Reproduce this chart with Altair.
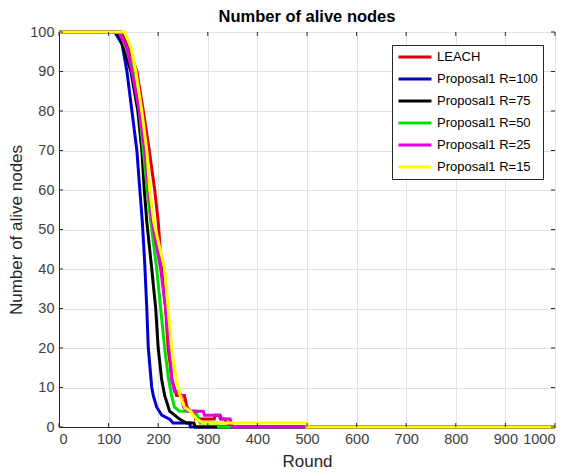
import altair as alt
import pandas as pd

series_names = ["LEACH", "Proposal1 R=100", "Proposal1 R=75", "Proposal1 R=50", "Proposal1 R=25", "Proposal1 R=15"]
series_colors = ["#e00000", "#0000d0", "#000000", "#00e000", "#e000e0", "#ffff00"]

leach_r = [0, 125, 140, 157, 170, 182, 193, 200, 207, 215, 220, 228, 237, 253, 258, 265, 273, 275, 313, 315, 325, 327, 335, 337, 343, 345, 1000]
leach_n = [100, 100, 96, 90, 80, 70, 60, 52, 40, 30, 20, 12, 8, 8, 5, 4, 4, 2, 2, 3, 3, 2, 2, 1, 1, 0, 0]

r100_r = [0, 112, 127, 137, 147, 157, 163, 168, 173, 177, 180, 187, 190, 197, 207, 223, 230, 263, 265, 1000]
r100_n = [100, 100, 97, 90, 80, 70, 60, 52, 41, 30, 20, 10, 8, 5, 3, 2, 1, 1, 0, 0]

r75_r = [0, 117, 130, 145, 159, 167, 172, 177, 187, 195, 200, 207, 213, 223, 233, 243, 257, 272, 275, 1000]
r75_n = [100, 100, 96, 90, 80, 70, 60, 52, 40, 30, 20, 12, 8, 4, 3, 2, 1, 1, 0, 0]

r50_r = [0, 122, 135, 150, 162, 170, 178, 185, 197, 205, 213, 219, 221, 227, 233, 243, 277, 280, 285, 320, 322, 1000]
r50_n = [100, 100, 96, 90, 80, 70, 60, 52, 40, 30, 20, 14, 12, 8, 5, 4, 4, 2, 1, 1, 0, 0]

r25_r = [0, 120, 137, 147, 162, 173, 181, 188, 205, 215, 223, 227, 233, 240, 247, 251, 260, 291, 293, 323, 325, 345, 350, 1000]
r25_n = [100, 100, 96, 90, 80, 70, 60, 52, 40, 30, 20, 12, 9, 9, 8, 5, 4, 4, 3, 3, 2, 2, 0, 0]

r15_r = [0, 133, 145, 155, 167, 177, 183, 191, 213, 220, 227, 231, 237, 244, 253, 265, 277, 291, 500, 500, 1000]
r15_n = [100, 100, 96, 90, 80, 70, 60, 52, 40, 30, 20, 16, 12, 8, 5, 4, 2, 1, 1, 0, 0]

all_r = [leach_r, r100_r, r75_r, r50_r, r25_r, r15_r]
all_n = [leach_n, r100_n, r75_n, r50_n, r25_n, r15_n]

x_ticks = list(range(0, 1001, 100))
y_ticks = list(range(0, 101, 10))

rows = []
for k, (name, rr, nn) in enumerate(zip(series_names, all_r, all_n)):
    for i, (r, n) in enumerate(zip(rr, nn)):
        rows.append({"series": name, "k": k, "i": i, "round": r, "alive": n})
df = pd.DataFrame(rows)

FONT = "Liberation Sans"
W, H = 496, 395
TL = 4  # inward tick length

x_scale = alt.Scale(domain=[0, 1000], nice=False)
y_scale = alt.Scale(domain=[0, 100], nice=False)
x_axis = alt.Axis(title="Round", values=x_ticks, format="d", titlePadding=8)
y_axis = alt.Axis(title="Number of alive nodes", values=y_ticks, format="d", titlePadding=4)

lines = alt.Chart(df).mark_line(strokeWidth=3, clip=False).encode(
    x=alt.X("round:Q", scale=x_scale, axis=x_axis),
    y=alt.Y("alive:Q", scale=y_scale, axis=y_axis),
    color=alt.Color("series:N",
                    scale=alt.Scale(domain=series_names, range=series_colors),
                    sort=series_names,
                    legend=alt.Legend(title=None, orient="none", legendX=333, legendY=13,
                                      symbolType="M-1,0H5", symbolStrokeWidth=3, symbolSize=121,
                                      labelFontSize=13, labelFont=FONT, labelColor="#000000",
                                      strokeColor="#262626", fillColor="#ffffff", padding=5,
                                      rowPadding=8, labelOffset=26)),
    detail="k:N",
    order="i:Q",
)

xt = pd.DataFrame({"v": x_ticks})
yt = pd.DataFrame({"v": y_ticks})
tick_color = "#262626"
xb = alt.Chart(xt).mark_rule(color=tick_color, strokeWidth=1).encode(
    x=alt.X("v:Q", scale=x_scale, axis=x_axis), y=alt.value(H), y2=alt.value(H - TL))
xtop = alt.Chart(xt).mark_rule(color=tick_color, strokeWidth=1).encode(
    x=alt.X("v:Q", scale=x_scale, axis=x_axis), y=alt.value(0), y2=alt.value(TL))
yl = alt.Chart(yt).mark_rule(color=tick_color, strokeWidth=1).encode(
    y=alt.Y("v:Q", scale=y_scale, axis=y_axis), x=alt.value(0), x2=alt.value(TL))
yr = alt.Chart(yt).mark_rule(color=tick_color, strokeWidth=1).encode(
    y=alt.Y("v:Q", scale=y_scale, axis=y_axis), x=alt.value(W - TL), x2=alt.value(W))

chart = alt.layer(lines, xb, xtop, yl, yr).properties(
    width=W, height=H,
    autosize=alt.AutoSizeParams(type="none"),
    padding={"left": 51, "top": 24, "right": 16, "bottom": 45},
    title=alt.TitleParams("Number of alive nodes", fontSize=16.5, font=FONT, fontWeight="bold",
                          anchor="middle", frame="group", offset=-1, color="#000000"),
).configure_view(
    stroke="#262626", strokeWidth=1
).configure_axis(
    labelFont=FONT, titleFont=FONT, labelFontSize=14.5, titleFontSize=17,
    titleFontWeight="normal", labelColor="#404040", titleColor="#262626",
    gridColor="#e2e2e2", domainColor="#262626", ticks=False, labelPadding=5
)

chart.save("out.html", embed_options={"renderer": "svg", "actions": False})
